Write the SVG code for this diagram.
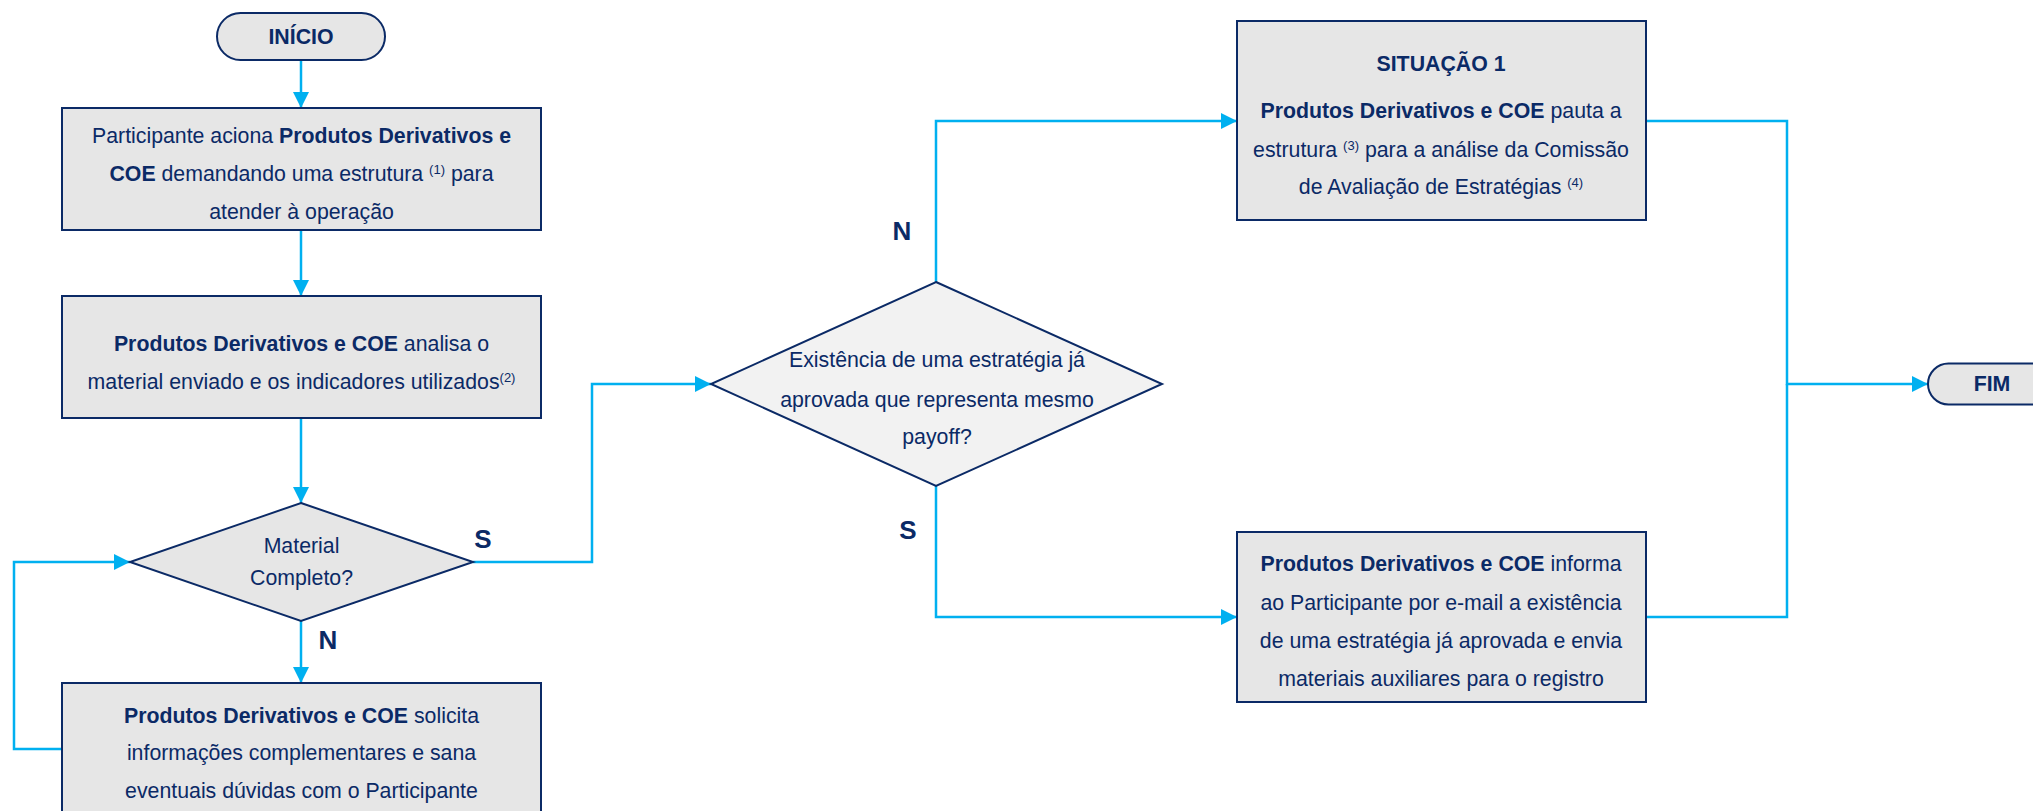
<svg xmlns="http://www.w3.org/2000/svg" width="2033" height="811" viewBox="0 0 2033 811">
<defs>
<marker id="arr" markerUnits="userSpaceOnUse" markerWidth="16" markerHeight="16" viewBox="0 0 16 16" refX="16" refY="8" orient="auto">
<path d="M0,0 L16,8 L0,16 Z" fill="#00B0F0"/>
</marker>
<style>
.box{fill:#E6E6E6;stroke:#0B2A66;stroke-width:2}
.dlight{fill:#F2F2F2;stroke:#0B2A66;stroke-width:2}
.t{font-family:"Liberation Sans",Arial,sans-serif;font-size:21.3px;fill:#0B2A66;text-anchor:middle}
.b{font-weight:bold}
.sup{font-size:13px}
.lbl{font-family:"Liberation Sans",Arial,sans-serif;font-size:26px;font-weight:bold;fill:#0B2A66;text-anchor:middle}
.c{fill:none;stroke:#00B0F0;stroke-width:2.5}
</style>
</defs>
<rect width="2033" height="811" fill="#FFFFFF"/>

<g id="connectors">
<path class="c" d="M301,60 V108" marker-end="url(#arr)"/>
<path class="c" d="M301,230 V296" marker-end="url(#arr)"/>
<path class="c" d="M301,418 V503" marker-end="url(#arr)"/>
<path class="c" d="M301,621 V683" marker-end="url(#arr)"/>
<path class="c" d="M62,749 H14 V562 H130" marker-end="url(#arr)"/>
<path class="c" d="M473,562 H592 V384 H711" marker-end="url(#arr)"/>
<path class="c" d="M936,282 V121 H1237" marker-end="url(#arr)"/>
<path class="c" d="M936,486 V617 H1237" marker-end="url(#arr)"/>
<path class="c" d="M1646,121 H1787 V384 H1928" marker-end="url(#arr)"/>
<path class="c" d="M1646,617 H1787 V384"/>
<text class="lbl" x="483" y="548">S</text>
<text class="lbl" x="328" y="649">N</text>
<text class="lbl" x="902" y="240">N</text>
<text class="lbl" x="908" y="539">S</text>
</g>

<g id="inicio">
<rect class="box" x="217" y="13" width="168" height="47" rx="23.5"/>
<text class="t b" x="301" y="44">INÍCIO</text>
</g>

<g id="aciona">
<rect class="box" x="62" y="108" width="479" height="122"/>
<text class="t" x="301.5" y="143">Participante aciona <tspan class="b">Produtos Derivativos e</tspan></text>
<text class="t" x="301.5" y="181"><tspan class="b">COE</tspan> demandando uma estrutura <tspan class="sup" dy="-7">(1)</tspan><tspan dy="7"> para</tspan></text>
<text class="t" x="301.5" y="219">atender à operação</text>
</g>

<g id="analisa">
<rect class="box" x="62" y="296" width="479" height="122"/>
<text class="t" x="301.5" y="351"><tspan class="b">Produtos Derivativos e COE</tspan> analisa o</text>
<text class="t" x="301.5" y="389">material enviado e os indicadores utilizados<tspan class="sup" dy="-7">(2)</tspan></text>
</g>

<g id="material-completo">
<polygon class="box" points="301,503 473,562 301,621 130,562"/>
<text class="t" x="301.5" y="553">Material</text>
<text class="t" x="301.5" y="585">Completo?</text>
</g>

<g id="solicita">
<rect class="box" x="62" y="683" width="479" height="140"/>
<text class="t" x="301.5" y="723"><tspan class="b">Produtos Derivativos e COE</tspan> solicita</text>
<text class="t" x="301.5" y="760">informações complementares e sana</text>
<text class="t" x="301.5" y="798">eventuais dúvidas com o Participante</text>
</g>

<g id="existencia">
<polygon class="dlight" points="936,282 1162,384 936,486 711,384"/>
<text class="t" x="937" y="367">Existência de uma estratégia já</text>
<text class="t" x="937" y="407">aprovada que representa mesmo</text>
<text class="t" x="937" y="444">payoff?</text>
</g>

<g id="situacao1">
<rect class="box" x="1237" y="21" width="409" height="199"/>
<text class="t b" x="1441" y="71">SITUAÇÃO 1</text>
<text class="t" x="1441" y="118"><tspan class="b">Produtos Derivativos e COE</tspan> pauta a</text>
<text class="t" x="1441" y="157">estrutura <tspan class="sup" dy="-7">(3)</tspan><tspan dy="7"> para a análise da Comissão</tspan></text>
<text class="t" x="1441" y="194">de Avaliação de Estratégias <tspan class="sup" dy="-7">(4)</tspan></text>
</g>

<g id="informa">
<rect class="box" x="1237" y="532" width="409" height="170"/>
<text class="t" x="1441" y="571"><tspan class="b">Produtos Derivativos e COE</tspan> informa</text>
<text class="t" x="1441" y="610">ao Participante por e-mail a existência</text>
<text class="t" x="1441" y="648">de uma estratégia já aprovada e envia</text>
<text class="t" x="1441" y="686">materiais auxiliares para o registro</text>
</g>

<g id="fim">
<rect class="box" x="1928" y="363.5" width="128" height="41" rx="20.5"/>
<text class="t b" x="1992" y="391">FIM</text>
</g>
</svg>
